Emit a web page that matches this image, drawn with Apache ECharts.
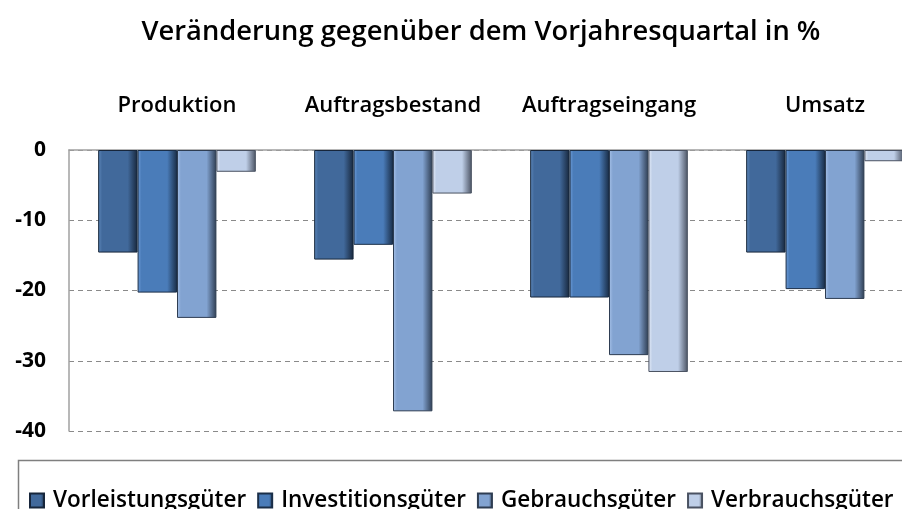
<!DOCTYPE html>
<html>
<head>
<meta charset="utf-8">
<script src="https://cdn.jsdelivr.net/npm/echarts@6/dist/echarts.min.js"></script>
<style>
html,body{margin:0;padding:0;background:#fff;}
#c{width:902px;height:509px;}
</style>
</head>
<body>
<div id="c"></div>
<script>
const categories = ['Produktion', 'Auftragsbestand', 'Auftragseingang', 'Umsatz'];
const seriesNames = ['Vorleistungsgüter', 'Investitionsgüter', 'Gebrauchsgüter', 'Verbrauchsgüter'];
const vorleistung = [-14.6, -15.6, -21.0, -14.6];
const investition = [-20.3, -13.5, -21.0, -19.8];
const gebrauch = [-23.9, -37.2, -29.2, -21.2];
const verbrauch = [-3.1, -6.2, -31.6, -1.6];
const yTicks = [0, -10, -20, -30, -40];

const seriesData = [vorleistung, investition, gebrauch, verbrauch];
const baseColors = ['#41699b', '#4a7cb9', '#82a3d1', '#bfcfe8'];
const lightColors = ['#5f89bd', '#6d9cd8', '#a6c1e8', '#e6edf8'];
const darkColors = ['#17263b', '#1a2e48', '#2e3d52', '#4a5262'];

function grad(i) {
  return new echarts.graphic.LinearGradient(0, 0, 1, 0, [
    {offset: 0, color: lightColors[i]},
    {offset: 0.1, color: baseColors[i]},
    {offset: 0.75, color: baseColors[i]},
    {offset: 1, color: darkColors[i]}
  ]);
}

const font = '"Open Sans", "DejaVu Sans", sans-serif';
const chart = echarts.init(document.getElementById('c'), null, {renderer: 'canvas'});
chart.setOption({
  animation: false,
  backgroundColor: '#fff',
  title: {
    text: 'Veränderung gegenüber dem Vorjahresquartal in %',
    left: 476, top: 14, textAlign: 'center',
    textStyle: {fontFamily: font, fontSize: 27.3, fontWeight: 600, color: '#000'}
  },
  legend: {
    data: seriesNames,
    left: 24, top: 484,
    itemWidth: 14, itemHeight: 14, itemGap: 11,
    icon: 'rect',
    textStyle: {fontFamily: font, fontSize: 22.5, fontWeight: 600, color: '#000', padding: [0, 0, 0, 4]}
  },
  graphic: [{
    type: 'rect', left: 16, top: 458, shape: {width: 900, height: 60},
    style: {fill: 'none', stroke: '#7f7f7f', lineWidth: 1.5}, silent: true, z: -1
  }],
  grid: {left: 69, width: 864, top: 150, height: 281, containLabel: false, outerBoundsMode: 'none'},
  xAxis: {
    type: 'category', data: categories, position: 'top',
    axisLine: {show: true, lineStyle: {color: '#a0a0a0', width: 1.5}},
    axisTick: {show: false},
    axisLabel: {interval: 0, margin: 33, fontFamily: font, fontSize: 22, fontWeight: 600, color: '#000'}
  },
  yAxis: {
    type: 'value', min: -40, max: 0, interval: 10,
    axisLine: {show: true, lineStyle: {color: '#a0a0a0', width: 1.5}},
    axisTick: {show: false},
    axisLabel: {margin: 23, fontFamily: font, fontSize: 21, fontWeight: 700, color: '#000',
      formatter: v => yTicks.includes(v) ? String(v) : ''},
    splitLine: {show: true, lineStyle: {color: '#8a8a8a', type: [5, 4], width: 1}}
  },
  series: seriesData.map((d, i) => ({
    name: seriesNames[i], type: 'bar', data: d,
    barGap: '0%', barCategoryGap: '27%',
    itemStyle: {color: grad(i), borderColor: darkColors[i], borderWidth: 1}
  }))
});
</script>
</body>
</html>
